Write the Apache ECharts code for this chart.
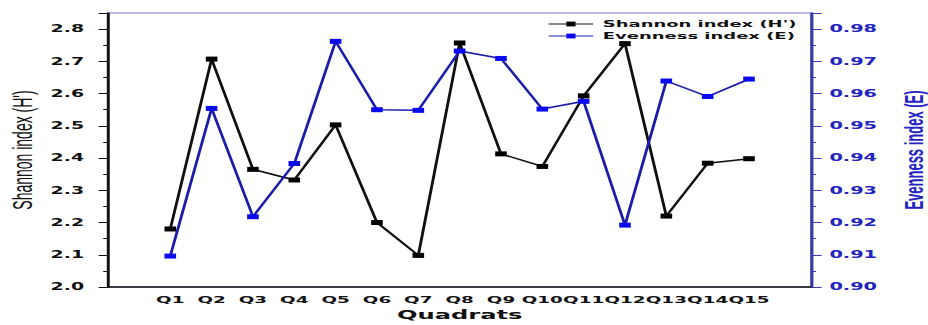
<!DOCTYPE html>
<html>
<head>
<meta charset="utf-8">
<script src="https://cdn.jsdelivr.net/npm/echarts@6/dist/echarts.min.js"></script>
<style>
  html, body { margin: 0; padding: 0; background: #fff; overflow: hidden; }
  #chart { width: 480px; height: 325px; transform: scaleX(1.9333); transform-origin: 0 0; }
</style>
</head>
<body>
<div id="chart"></div>
<script>
// Data
const quadrats = ['Q1','Q2','Q3','Q4','Q5','Q6','Q7','Q8','Q9','Q10','Q11','Q12','Q13','Q14','Q15'];
const shannon  = [2.18, 2.707, 2.365, 2.332, 2.503, 2.200, 2.098, 2.757, 2.413, 2.374, 2.593, 2.755, 2.220, 2.384, 2.398];
const evenness = [0.9096, 0.9554, 0.9218, 0.9383, 0.9762, 0.9550, 0.9548, 0.9732, 0.9709, 0.9552, 0.9576, 0.9192, 0.9639, 0.9591, 0.9645];
const seriesNames = ["Shannon index (H')", "Evenness index (E)"];
const axisNames = { x: 'Quadrats', left: "Shannon index (H')", right: 'Evenness index (E)' };

const FONT = '"DejaVu Sans", Verdana, sans-serif';
const NAME_FONT = '"Liberation Sans", Arial, Helvetica, sans-serif';
const BLUE_TXT = '#2424c0';
const axisCats = [' ', ...quadrats, '  '];

const chart = echarts.init(document.getElementById('chart'), null, { renderer: 'svg' });
chart.setOption({
  animation: false,
  backgroundColor: '#fff',
  grid: {
    left: 56, right: 60.5, top: 13, bottom: 38,
    containLabel: false, outerBoundsMode: 'none',
    show: true, borderColor: '#7676c8', borderWidth: 1, backgroundColor: 'transparent'
  },
  legend: {
    orient: 'vertical', right: 63, top: 13,
    itemWidth: 23, itemHeight: 6, itemGap: 0,
    lineStyle: { width: 1 },
    textStyle: { fontFamily: FONT, fontWeight: 'bold', fontSize: 9.3, lineHeight: 12, color: '#111' },
    data: seriesNames
  },
  xAxis: [{
    type: 'category', data: axisCats, boundaryGap: true, position: 'bottom',
    name: axisNames.x, nameLocation: 'middle', nameGap: 21, nameMoveOverlap: false,
    nameTextStyle: { fontFamily: FONT, fontWeight: 'bold', fontSize: 12.5, color: '#111' },
    axisLine: { lineStyle: { color: '#111', width: 1.5 } },
    axisTick: { alignWithLabel: true, length: 5, lineStyle: { color: '#111', width: 1 } },
    axisLabel: { interval: 0, margin: 7.5, fontFamily: FONT, fontWeight: 'bold', fontSize: 9.5, color: '#111' },
    splitLine: { show: false }
  }, {
    type: 'category', data: axisCats, boundaryGap: true, position: 'bottom',
    axisLine: { show: false },
    axisTick: { length: 2.7, lineStyle: { color: '#111', width: 1 } },
    axisLabel: { show: false },
    splitLine: { show: false }
  }],
  yAxis: [{
    type: 'value', position: 'left', min: 2.0, max: 2.85, interval: 0.1,
    name: axisNames.left, nameLocation: 'middle', nameGap: 37, nameMoveOverlap: false,
    nameTextStyle: { fontFamily: NAME_FONT, fontSize: 14, color: '#111' },
    axisLine: { show: true, lineStyle: { color: '#111', width: 1.5 } },
    axisTick: { show: true, length: 5, lineStyle: { color: '#111', width: 1 } },
    minorTick: { show: true, splitNumber: 2, length: 2.6, lineStyle: { color: '#111', width: 1 } },
    axisLabel: { showMaxLabel: false, margin: 12.5, fontFamily: FONT, fontWeight: 'bold', fontSize: 9.8, color: '#111',
                 formatter: v => v.toFixed(1) },
    splitLine: { show: false }
  }, {
    type: 'value', position: 'right', min: 0.90, max: 0.985, interval: 0.01,
    name: axisNames.right, nameLocation: 'middle', nameGap: 47, nameMoveOverlap: false,
    nameTextStyle: { fontFamily: NAME_FONT, fontWeight: 'bold', fontSize: 13, color: BLUE_TXT },
    axisLine: { show: true, lineStyle: { color: '#3a3aaa', width: 1.5 } },
    axisTick: { show: true, length: 5.5, lineStyle: { color: '#3a3aaa', width: 1 } },
    minorTick: { show: true, splitNumber: 2, length: 2.6, lineStyle: { color: '#3a3aaa', width: 1 } },
    axisLabel: { showMaxLabel: false, margin: 9.5, fontFamily: FONT, fontWeight: 'bold', fontSize: 10, color: BLUE_TXT,
                 formatter: v => v.toFixed(2) },
    splitLine: { show: false }
  }],
  series: [{
    name: seriesNames[0], type: 'line', xAxisIndex: 0, yAxisIndex: 0,
    data: quadrats.map((q, i) => [q, shannon[i]]),
    symbol: 'rect', symbolSize: [6, 5],
    lineStyle: { color: '#111', width: 1.5 },
    itemStyle: { color: '#000' }
  }, {
    name: seriesNames[1], type: 'line', xAxisIndex: 0, yAxisIndex: 1,
    data: quadrats.map((q, i) => [q, evenness[i]]),
    symbol: 'rect', symbolSize: [6, 5],
    lineStyle: { color: '#1c1caa', width: 1.5 },
    itemStyle: { color: '#0a0aee' }
  }]
});
</script>
</body>
</html>
